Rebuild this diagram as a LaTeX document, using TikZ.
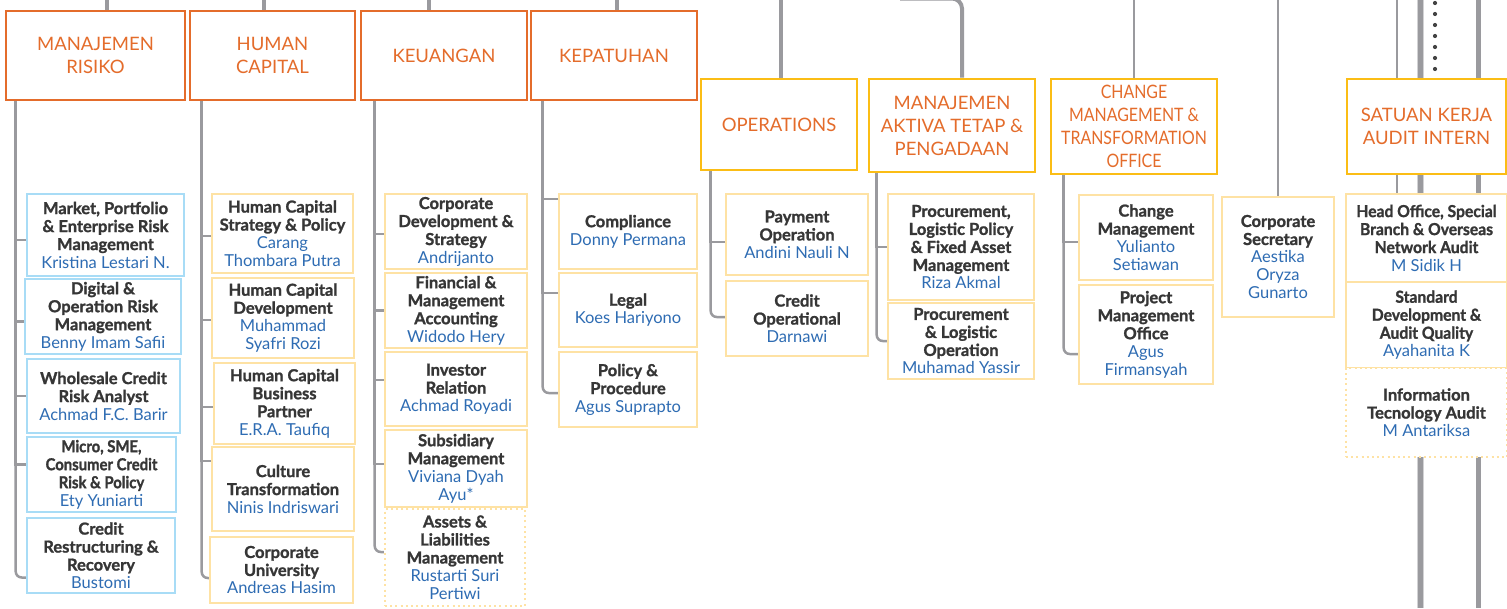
\documentclass[tikz,border=0pt]{standalone}
\usepackage{fontspec}
\setmainfont{Lato}[BoldFeatures={FakeBold=1.3}]
\usetikzlibrary{backgrounds}

\definecolor{hdorange}{HTML}{E46C2B}
\definecolor{hdgold}{HTML}{FBBD15}
\definecolor{boxyellow}{HTML}{FEE2A4}
\definecolor{boxblue}{HTML}{A8DCF6}
\definecolor{wire}{HTML}{9A9A9E}
\definecolor{wirelight}{HTML}{D2D2D4}
\definecolor{nameblue}{HTML}{2E6CB3}
\definecolor{titlegray}{HTML}{363636}
\definecolor{dotgray}{HTML}{444444}

\newcommand{\who}[1]{{\mdseries\color{nameblue}#1}}
\newcommand{\cnd}{\addfontfeature{FakeStretch=0.9}}
\newcommand{\cndw}{\addfontfeature{FakeStretch=0.95}}

\begin{document}
\begin{tikzpicture}[x=1pt,y=-1pt,
	unit/.style={draw=hdorange, line width=2.6pt, fill=white, text=hdorange, align=center, inner sep=2pt, font=\fontsize{18.5}{23}\selectfont},
	gold unit/.style={unit, draw=hdgold},
	sub/.style={draw=boxyellow, line width=2.2pt, fill=white, text=titlegray, align=center, inner sep=1pt, font=\fontsize{16.5}{18}\selectfont\bfseries},
	blue sub/.style={sub, draw=boxblue},
	dot sub/.style={sub, dash pattern=on 2pt off 3.2pt},
	trunk/.style={draw=wire, line width=4pt},
	thin wire/.style={draw=wire, line width=2pt},
	branch/.style={draw=wire, line width=2.5pt, rounded corners=6pt},
	tick/.style={draw=wire, line width=2.5pt}]
\useasboundingbox (0,0) rectangle (1507,608);

\node[unit, minimum width=179, minimum height=89] (rk) at (95.5,55.5) {MANAJEMEN\\RISIKO};
\node[unit, minimum width=165, minimum height=89] (hc) at (272.5,55.5) {HUMAN\\CAPITAL};
\node[unit, minimum width=166, minimum height=89] (ku) at (444,55.5) {KEUANGAN};
\node[unit, minimum width=166, minimum height=89] (kp) at (614,55.5) {KEPATUHAN};
\node[gold unit, minimum width=156, minimum height=91] (op) at (779,124.5) {OPERATIONS};
\node[gold unit, minimum width=166, minimum height=93] (ma) at (952,125.5) {MANAJEMEN\\AKTIVA TETAP \&\\PENGADAAN};
\node[gold unit, minimum width=166, minimum height=95, font=\fontsize{18.5}{23}\selectfont\addfontfeature{FakeStretch=0.86}] (cm) at (1134,126.5) {CHANGE\\MANAGEMENT \&\\TRANSFORMATION\\OFFICE};
\node[gold unit, minimum width=159, minimum height=95] (sk) at (1426.5,126.5) {SATUAN KERJA\\AUDIT INTERN};

\node[blue sub, minimum width=157, minimum height=82] (rk1) at (105.5,235) {Market, Portfolio\\\& Enterprise Risk\\Management\\\who{Kristina Lestari N.}};
\node[blue sub, minimum width=156, minimum height=75] (rk2) at (103,316.5) {Digital \&\\Operation Risk\\Management\\\who{Benny Imam Safii}};
\node[blue sub, minimum width=153, minimum height=74] (rk3) at (103.5,396) {Wholesale Credit\\Risk Analyst\\\who{Achmad F.C. Barir}};
\node[blue sub, minimum width=149, minimum height=75] (rk4) at (101.5,474.5) {\cnd Micro, SME,\\\cnd Consumer Credit\\\cnd Risk \& Policy\\\who{Ety Yuniarti}};
\node[blue sub, minimum width=148, minimum height=75] (rk5) at (101,555.5) {Credit\\Restructuring \&\\Recovery\\\who{Bustomi}};

\node[sub, minimum width=141, minimum height=79] (hc1) at (282.5,233.5) {Human Capital\\Strategy \& Policy\\\who{Carang}\\\who{Thombara Putra}};
\node[sub, minimum width=142, minimum height=80] (hc2) at (283,318) {Human Capital\\Development\\\who{Muhammad}\\\who{Syafri Rozi}};
\node[sub, minimum width=141, minimum height=81] (hc3) at (284.5,403.5) {Human Capital\\Business\\Partner\\\who{E.R.A. Taufiq}};
\node[sub, minimum width=142, minimum height=84] (hc4) at (283,489) {Culture\\Transformation\\\who{Ninis Indriswari}};
\node[sub, minimum width=143, minimum height=66] (hc5) at (281.5,570) {Corporate\\University\\\who{Andreas Hasim}};

\node[sub, minimum width=142, minimum height=75] (ku1) at (456,231.5) {Corporate\\Development \&\\Strategy\\\who{Andrijanto}};
\node[sub, minimum width=142, minimum height=75] (ku2) at (456,310.5) {Financial \&\\Management\\Accounting\\\who{Widodo Hery}};
\node[sub, minimum width=142, minimum height=74] (ku3) at (456,389) {Investor\\Relation\\\who{Achmad Royadi}};
\node[sub, minimum width=142, minimum height=77] (ku4) at (456,468.5) {Subsidiary\\Management\\\who{Viviana Dyah}\\\who{Ayu*}};
\node[sub, dot sub, minimum width=140, minimum height=97] (ku5) at (455,557.5) {Assets \&\\Liabilities\\Management\\\who{Rustarti Suri}\\\who{Pertiwi}};

\node[sub, minimum width=138, minimum height=75] (kp1) at (628,231.5) {Compliance\\\who{Donny Permana}};
\node[sub, minimum width=138, minimum height=74] (kp2) at (628,310) {Legal\\\who{Koes Hariyono}};
\node[sub, minimum width=138, minimum height=75] (kp3) at (628,389.5) {Policy \&\\Procedure\\\who{Agus Suprapto}};

\node[sub, minimum width=142, minimum height=81] (op1) at (797,234.5) {Payment\\Operation\\\who{Andini Nauli N}};
\node[sub, minimum width=142, minimum height=75] (op2) at (797,318.5) {Credit\\Operational\\\who{Darnawi}};

\node[sub, minimum width=146, minimum height=106] (ma1) at (961,247) {Procurement,\\Logistic Policy\\\& Fixed Asset\\Management\\\who{Riza Akmal}};
\node[sub, minimum width=146, minimum height=76] (ma2) at (961,341) {Procurement\\\& Logistic\\Operation\\\who{Muhamad Yassir}};

\node[sub, minimum width=134, minimum height=85] (cm1) at (1146,237.5) {Change\\Management\\\who{Yulianto}\\\who{Setiawan}};
\node[sub, minimum width=134, minimum height=99] (cm2) at (1146,334.5) {Project\\Management\\Office\\\who{Agus}\\\who{Firmansyah}};

\node[sub, minimum width=112, minimum height=120] (cs) at (1278,257) {Corporate\\Secretary\\\who{Aestika}\\\who{Oryza}\\\who{Gunarto}};

\node[sub, minimum width=161, minimum height=88] (sk1) at (1426.5,238) {\cndw Head Office, Special\\\cndw Branch \& Overseas\\\cndw Network Audit\\\who{M Sidik H}};
\node[sub, minimum width=161, minimum height=86] (sk2) at (1426.5,325) {\cndw Standard\\\cndw Development \&\\\cndw Audit Quality\\\who{Ayahanita K}};
\node[sub, dot sub, minimum width=161, minimum height=89] (sk3) at (1426.5,412.5) {Information\\Tecnology Audit\\\who{M Antariksa}};

\begin{scope}[on background layer]
\coordinate (rk top) at (107,0);
\coordinate (hc top) at (264,0);
\coordinate (ku top) at (429,0);
\coordinate (kp top) at (617,0);
\coordinate (op top) at (781,0);
\coordinate (ma top) at (900,-1.5);
\coordinate (cm top) at (1134,0);
\coordinate (cs top) at (1278,0);
\coordinate (au top) at (1397,0);
\coordinate (au dots top) at (1435,3);
\coordinate (au dots end) at (1435,70);
\coordinate (au a top) at (1420,0);
\coordinate (au a end) at (1420,608);
\coordinate (au b top) at (1478,0);
\coordinate (au b end) at (1478,608);

\foreach \u in {rk,hc,ku,kp,op}
	\draw[trunk] (\u\space top) -- (\u\space top |- \u.north);
\draw[trunk, rounded corners=10pt] (ma top) -| ([xshift=10]ma.north);
\draw[thin wire] (cm top) -- (cm.north);
\draw[thin wire] (cs top) -- (cs.north);
\draw[thin wire] (au top) -- (au top |- sk1.north);
\draw[draw=wirelight, line width=7pt] (au a top) -- (au a end);
\draw[trunk, line width=5pt] (au a top) -- (au a end);
\draw[trunk, line width=5pt] (au b top) -- (au b end);
\draw[draw=dotgray, line width=4.2pt, line cap=round, dash pattern=on 0pt off 11pt] (au dots top) -- (au dots end);

\coordinate (rkx) at ([xshift=11]rk.south west);
\coordinate (hcx) at ([xshift=13]hc.south west);
\coordinate (kux) at ([xshift=15]ku.south west);
\coordinate (kpx) at ([xshift=13]kp.south west);
\coordinate (opx) at ([xshift=11]op.south west);
\coordinate (max) at ([xshift=9]ma.south west);
\coordinate (cmx) at ([xshift=14]cm.south west);

\draw[branch] (rkx) |- ([yshift=-22]rk5.west);
\draw[branch] (hcx) |- ([yshift=-8]hc5.west);
\draw[branch] (kux) |- ([yshift=5.5]ku5.west);
\draw[branch] (kpx) |- ([yshift=-3.5]kp3.west);
\draw[branch] (opx) |- ([yshift=1.5]op2.west);
\draw[branch] (max) |- (ma2.west);
\draw[branch] (cmx) |- ([yshift=-19.5]cm2.west);

\foreach \b/\s/\t in {rk1/-5/rkx, rk2/-5/rkx, rk3/0/rkx, rk4/10/rkx,
		hc1/-2.5/hcx, hc2/-2/hcx, hc3/-3.5/hcx, hc4/28/hcx,
		ku1/-2.5/kux, ku2/0/kux, ku3/9/kux, ku4/4.5/kux,
		kp1/32.5/kpx, kp2/17/kpx, op1/-7.5/opx, ma1/0/max, cm1/-4.5/cmx}
	\draw[tick] ([yshift=\s]\b.west) -| (\t);
\end{scope}
\end{tikzpicture}
\end{document}
